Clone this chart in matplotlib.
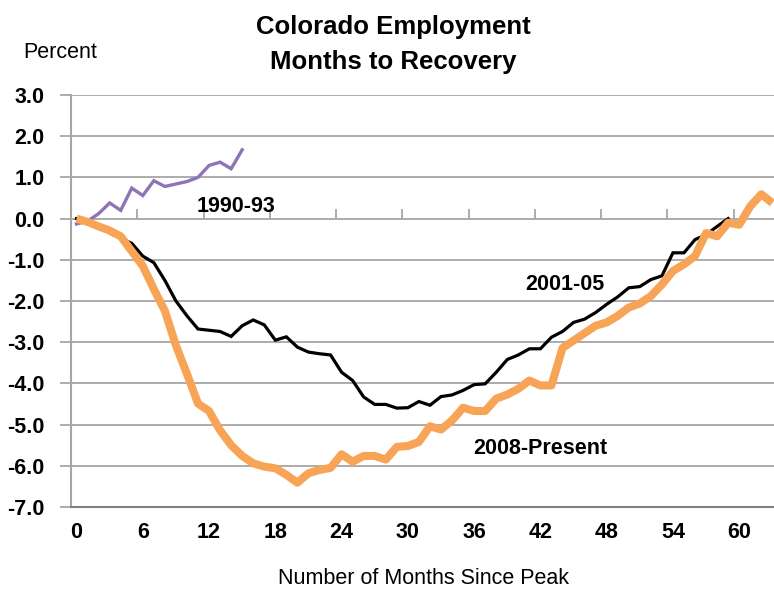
import matplotlib
matplotlib.use("Agg")
import matplotlib.pyplot as plt
import numpy as np

plt.rcParams['font.family'] = ['Liberation Sans Narrow', 'Liberation Sans', 'DejaVu Sans']

# Months since peak
months_1990 = list(range(0, 16))
vals_1990 = [-0.13, -0.06, 0.12, 0.38, 0.20, 0.74, 0.56, 0.92, 0.78, 0.84,
             0.90, 1.00, 1.29, 1.37, 1.21, 1.67]

months_2001 = list(range(0, 60))
vals_2001 = [0.00, -0.05, -0.15, -0.35, -0.48, -0.60, -0.91, -1.07, -1.50, -2.00,
             -2.36, -2.68, -2.71, -2.74, -2.86, -2.60, -2.46, -2.58, -2.95, -2.87,
             -3.12, -3.24, -3.28, -3.31, -3.73, -3.93, -4.33, -4.51, -4.51, -4.60,
             -4.59, -4.44, -4.53, -4.32, -4.28, -4.17, -4.03, -4.01, -3.73, -3.42,
             -3.31, -3.16, -3.16, -2.88, -2.74, -2.52, -2.44, -2.28, -2.08, -1.90,
             -1.68, -1.65, -1.48, -1.39, -0.83, -0.83, -0.51, -0.39, -0.19, 0.00]

months_2008 = list(range(0, 64))
vals_2008 = [0.00, -0.08, -0.19, -0.29, -0.43, -0.79, -1.15, -1.71, -2.24, -3.08,
             -3.77, -4.49, -4.67, -5.14, -5.50, -5.76, -5.94, -6.02, -6.06, -6.22,
             -6.41, -6.18, -6.10, -6.05, -5.72, -5.90, -5.76, -5.76, -5.85, -5.54,
             -5.52, -5.42, -5.04, -5.12, -4.90, -4.59, -4.67, -4.67, -4.37, -4.27,
             -4.13, -3.93, -4.05, -4.05, -3.14, -2.96, -2.78, -2.60, -2.52, -2.36,
             -2.16, -2.06, -1.88, -1.60, -1.27, -1.11, -0.91, -0.35, -0.43, -0.10,
             -0.15, 0.30, 0.59, 0.38]

x_ticks = list(range(0, 61, 6))
y_ticks = [3, 2, 1, 0, -1, -2, -3, -4, -5, -6, -7]
y_tick_labels = ['3.0', '2.0', '1.0', '0.0', '-1.0', '-2.0', '-3.0', '-4.0', '-5.0', '-6.0', '-7.0']

fig = plt.figure(figsize=(7.74, 5.89), dpi=100)
ax = fig.add_axes([71/774, 1 - 507/589, 1 - 71/774, (507 - 95)/589])

grid_col = '#A6A6A6'
for y in y_ticks:
    ax.axhline(y, color=grid_col, lw=1.3, zorder=1)

ax.plot(months_1990, vals_1990, color='#8E74B6', lw=2.4, zorder=3, solid_joinstyle='miter')
ax.plot(months_2001, vals_2001, color='black', lw=2.3, zorder=3, solid_joinstyle='miter')
ax.plot(months_2008, vals_2008, color='#F8A457', lw=5.8, zorder=4,
        solid_joinstyle='round', solid_capstyle='butt')

ax.set_xlim(-0.5, 63.15)
ax.set_ylim(-7, 3)

tick_fs = 15.5
ax.set_yticks(y_ticks)
ax.set_yticklabels(y_tick_labels, fontsize=tick_fs, fontweight='bold')
ax.set_xticks(x_ticks)
ax.set_xticklabels([str(t) for t in x_ticks], fontsize=tick_fs, fontweight='bold')
ax.tick_params(axis='y', direction='out', length=8, width=1.3, color=grid_col, pad=11)
ax.tick_params(axis='x', length=0, pad=11)

for s in ['top', 'right']:
    ax.spines[s].set_visible(False)
ax.spines['left'].set_color(grid_col)
ax.spines['left'].set_linewidth(1.5)
ax.spines['bottom'].set_color('#808080')
ax.spines['bottom'].set_linewidth(1.5)

# category axis crossing at zero, with tick marks between categories
sec = ax.secondary_xaxis(0.7)
sec.set_xticks(np.arange(5.5, 63, 6))
sec.set_xticklabels([])
sec.tick_params(axis='x', direction='out', length=7, width=1.3, color=grid_col)
sec.spines['bottom'].set_visible(False)
sec.spines['top'].set_visible(False)

ax.text(14.4, 0.30, '1990-93', fontsize=tick_fs, fontweight='bold', ha='center', va='center', zorder=5)
ax.text(44.2, -1.59, '2001-05', fontsize=tick_fs, fontweight='bold', ha='center', va='center', zorder=5)
ax.text(42.0, -5.57, '2008-Present', fontsize=tick_fs, fontweight='bold', ha='center', va='center', zorder=5)

fig.text(393/774, 1 - 27/589, 'Colorado Employment', fontsize=18.5,
         fontweight='bold', ha='center', va='center')
fig.text(393/774, 1 - 62/589, 'Months to Recovery', fontsize=18.5,
         fontweight='bold', ha='center', va='center')
fig.text(60/774, 1 - 52/589, 'Percent', fontsize=15.5, ha='center', va='center')
fig.text(424/774, 1 - 578/589, 'Number of Months Since Peak', fontsize=15.5, ha='center', va='center')

fig.savefig('out.png', dpi=100)
